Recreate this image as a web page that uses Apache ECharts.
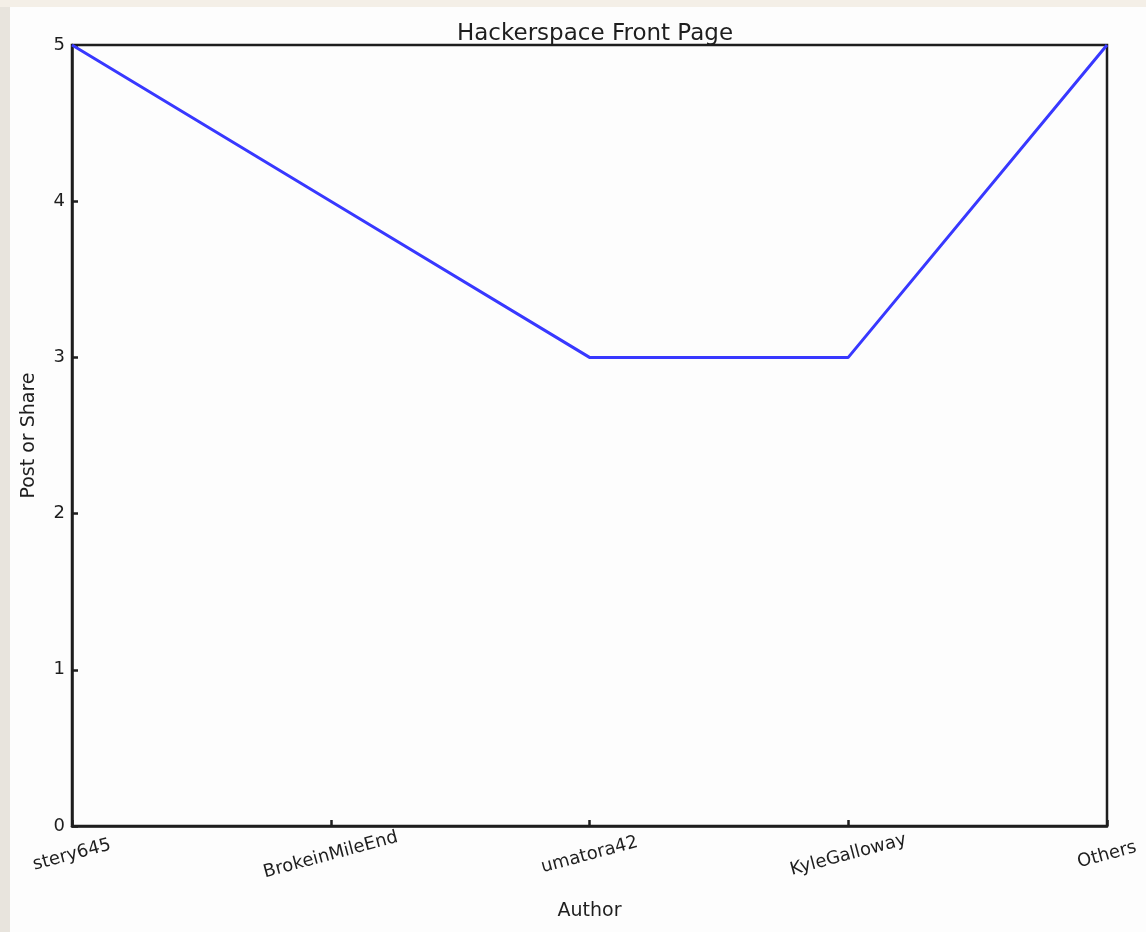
<!DOCTYPE html>
<html>
<head>
<meta charset="utf-8">
<title>Hackerspace Front Page</title>
<script src="https://cdn.jsdelivr.net/npm/echarts@6/dist/echarts.min.js"></script>
<style>
  html, body { margin: 0; padding: 0; width: 1146px; height: 932px; overflow: hidden; background: #f4efe7; }
  #edge { position: absolute; left: 0; top: 7px; width: 10px; height: 925px; background: #e8e4dd; }
  #chart { position: absolute; left: 10px; top: 7px; width: 1136px; height: 925px; background: #fdfdfd; }
</style>
</head>
<body>
<div id="edge"></div>
<div id="chart"></div>
<script>
// Authors on the front page and how many posts/shares each had
const authors = ['stery645', 'BrokeinMileEnd', 'umatora42', 'KyleGalloway', 'Others'];
const postsOrShares = [5, 4, 3, 3, 5];
const yTicks = [0, 1, 2, 3, 4, 5];

const FONT = '"DejaVu Sans", Lato, sans-serif';
const INK = '#1e1e1e';

const chart = echarts.init(document.getElementById('chart'), null, { renderer: 'canvas' });

chart.setOption({
  animation: false,
  backgroundColor: 'transparent',
  title: {
    text: 'Hackerspace Front Page',
    left: 580,
    top: 11,
    textAlign: 'center',
    textStyle: { fontFamily: FONT, fontSize: 23, fontWeight: 'normal', color: INK }
  },
  grid: {
    left: 62, right: 39, top: 38, bottom: 106,
    containLabel: false,
    outerBoundsMode: 'none',
    show: true, borderColor: INK, borderWidth: 2.5, backgroundColor: 'transparent'
  },
  xAxis: {
    type: 'category',
    data: authors,
    boundaryGap: false,
    name: 'Author',
    nameLocation: 'middle',
    nameGap: 76,
    nameTextStyle: { fontFamily: FONT, fontSize: 19, color: INK },
    axisLine: { show: true, lineStyle: { color: INK, width: 2.5 } },
    axisTick: { show: true, inside: true, length: 6, lineStyle: { color: INK, width: 2.5 }, alignWithLabel: true },
    axisLabel: {
      rotate: 15, margin: 29, align: 'center', verticalAlign: 'middle',
      fontFamily: FONT, fontSize: 18, color: INK, hideOverlap: false, interval: 0
    },
    splitLine: { show: false }
  },
  yAxis: {
    type: 'value',
    min: yTicks[0],
    max: yTicks[yTicks.length - 1],
    interval: 1,
    name: 'Post or Share',
    nameLocation: 'middle',
    nameGap: 33,
    nameTextStyle: { fontFamily: FONT, fontSize: 19, color: INK },
    axisLine: { show: true, lineStyle: { color: INK, width: 2.5 } },
    axisTick: { show: true, inside: true, length: 6, lineStyle: { color: INK, width: 2.5 } },
    axisLabel: { margin: 7, fontFamily: FONT, fontSize: 18, color: INK },
    splitLine: { show: false }
  },
  series: [{
    type: 'line',
    data: postsOrShares,
    showSymbol: false,
    smooth: false,
    lineStyle: { color: '#3838ff', width: 3 },
    itemStyle: { color: '#3838ff' }
  }]
});
</script>
</body>
</html>
